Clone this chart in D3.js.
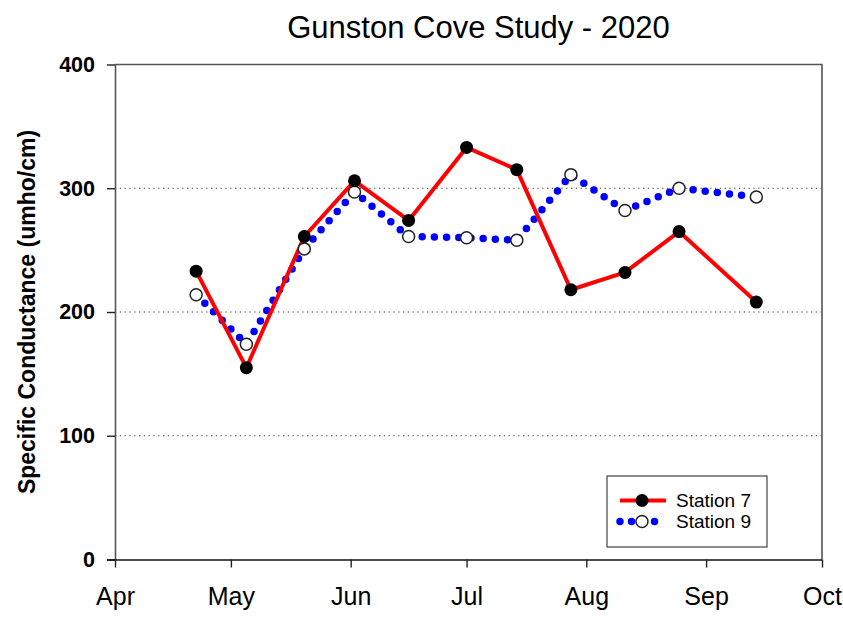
<!DOCTYPE html>
<html>
<head>
<meta charset="utf-8">
<script src="https://cdn.jsdelivr.net/npm/d3@7"></script>
<style>
  html, body { margin: 0; padding: 0; background: #fff; }
  svg { display: block; font-family: "Liberation Sans", Arial, sans-serif; }
</style>
</head>
<body>
<svg id="chart" width="843" height="624"></svg>
<script>
// Sampling dates (2020) and specific conductance readings
const sampleDates = ["2020-04-22", "2020-05-05", "2020-05-20", "2020-06-02", "2020-06-16",
                     "2020-07-01", "2020-07-14", "2020-07-28", "2020-08-11", "2020-08-25", "2020-09-14"];
const station7 = [233, 155, 261, 306, 274, 333, 315, 218, 232, 265, 208];
const station9 = [214, 174, 251, 297, 261, 260, 258, 311, 282, 300, 293];
const monthTicks = ["2020-04-01", "2020-05-01", "2020-06-01", "2020-07-01", "2020-08-01", "2020-09-01", "2020-10-01"];
const yTicks = [0, 100, 200, 300, 400];
const gridValues = [100, 200, 300];

const parse = d3.utcParse("%Y-%m-%d");
const svg = d3.select("#chart");

const plotLeft = 115, plotRight = 822, plotTop = 64.5, plotBottom = 559.5;

const x = d3.scaleUtc()
  .domain([parse(monthTicks[0]), parse(monthTicks[monthTicks.length - 1])])
  .range([plotLeft, plotRight]);
const y = d3.scaleLinear().domain([0, 400]).range([plotBottom, plotTop]);

// Dotted horizontal gridlines
svg.append("g").selectAll("line").data(gridValues).join("line")
  .attr("x1", plotLeft).attr("x2", plotRight)
  .attr("y1", d => y(d)).attr("y2", d => y(d))
  .attr("stroke", "#333").attr("stroke-width", 1.2)
  .attr("stroke-dasharray", "1.2 3.6");

// Frame top and right edges
svg.append("path")
  .attr("d", `M${plotLeft},${plotTop}H${plotRight}V${plotBottom}`)
  .attr("fill", "none").attr("stroke", "#555").attr("stroke-width", 1.6);

// Y axis
const yAxis = svg.append("g")
  .attr("transform", `translate(${plotLeft},0)`)
  .call(d3.axisLeft(y).tickValues(yTicks).tickSize(8).tickPadding(12).tickSizeOuter(0));
yAxis.select(".domain").attr("stroke", "#555").attr("stroke-width", 1.6);
yAxis.selectAll(".tick line").attr("stroke", "#222").attr("stroke-width", 1.4);
yAxis.selectAll(".tick text")
  .attr("font-size", 21.5).attr("font-weight", "bold").attr("fill", "#000")
  .attr("font-family", "Liberation Sans, Arial, sans-serif");

// X axis
const xAxis = svg.append("g")
  .attr("transform", `translate(0,${plotBottom})`)
  .call(d3.axisBottom(x).tickValues(monthTicks.map(parse))
    .tickFormat(d3.utcFormat("%b")).tickSize(8).tickSizeOuter(0));
xAxis.select(".domain").attr("stroke", "#111").attr("stroke-width", 1.6)
  .attr("d", `M${plotLeft - 8},0.5H${plotRight}`);
xAxis.selectAll(".tick line").attr("stroke", "#222").attr("stroke-width", 1.4);
xAxis.selectAll(".tick text")
  .attr("y", 45.5).attr("dy", null)
  .attr("font-size", 25).attr("fill", "#000")
  .attr("font-family", "Liberation Sans, Arial, sans-serif");

// Title
svg.append("text")
  .attr("x", 478.5).attr("y", 37.5)
  .attr("text-anchor", "middle")
  .attr("font-size", 31).attr("fill", "#000")
  .text("Gunston Cove Study - 2020");

// Y axis title
svg.append("text")
  .attr("transform", `translate(35,312) rotate(-90)`)
  .attr("text-anchor", "middle")
  .attr("font-size", 23).attr("font-weight", "bold").attr("fill", "#000")
  .text("Specific Conductance (umho/cm)");

const s7 = sampleDates.map((d, i) => ({ date: parse(d), value: station7[i] }));
const s9 = sampleDates.map((d, i) => ({ date: parse(d), value: station9[i] }));
const line = d3.line().x(d => x(d.date)).y(d => y(d.value));

// Station 9: blue dotted line with open markers
svg.append("path").datum(s9)
  .attr("d", line)
  .attr("fill", "none").attr("stroke", "#0000ff").attr("stroke-width", 7.5)
  .attr("stroke-linecap", "round").attr("stroke-dasharray", "0 12.2");

// Station 7: red solid line with filled markers
svg.append("path").datum(s7)
  .attr("d", line)
  .attr("fill", "none").attr("stroke", "#ff0000").attr("stroke-width", 4)
  .attr("stroke-linejoin", "round");

svg.append("g").selectAll("circle").data(s9).join("circle")
  .attr("cx", d => x(d.date)).attr("cy", d => y(d.value)).attr("r", 6)
  .attr("fill", "#fff").attr("stroke", "#222").attr("stroke-width", 1.5);

svg.append("g").selectAll("circle").data(s7).join("circle")
  .attr("cx", d => x(d.date)).attr("cy", d => y(d.value)).attr("r", 6.5)
  .attr("fill", "#000");

// Legend
const legend = svg.append("g");
legend.append("rect")
  .attr("x", 607).attr("y", 476).attr("width", 160).attr("height", 71)
  .attr("fill", "#fff").attr("stroke", "#444").attr("stroke-width", 1.2);

legend.append("line")
  .attr("x1", 620).attr("x2", 666).attr("y1", 500.5).attr("y2", 500.5)
  .attr("stroke", "#ff0000").attr("stroke-width", 4);
legend.append("circle").attr("cx", 642).attr("cy", 500.5).attr("r", 6.5).attr("fill", "#000");
legend.append("text").attr("x", 676).attr("y", 507)
  .attr("font-size", 19).attr("fill", "#000").text("Station 7");

legend.append("line")
  .attr("x1", 620).attr("x2", 666).attr("y1", 521.5).attr("y2", 521.5)
  .attr("stroke", "#0000ff").attr("stroke-width", 7.5)
  .attr("stroke-linecap", "round").attr("stroke-dasharray", "0 11.5");
legend.append("circle").attr("cx", 642).attr("cy", 521.5).attr("r", 6)
  .attr("fill", "#fff").attr("stroke", "#222").attr("stroke-width", 1.5);
legend.append("text").attr("x", 676).attr("y", 528)
  .attr("font-size", 19).attr("fill", "#000").text("Station 9");
</script>
</body>
</html>
